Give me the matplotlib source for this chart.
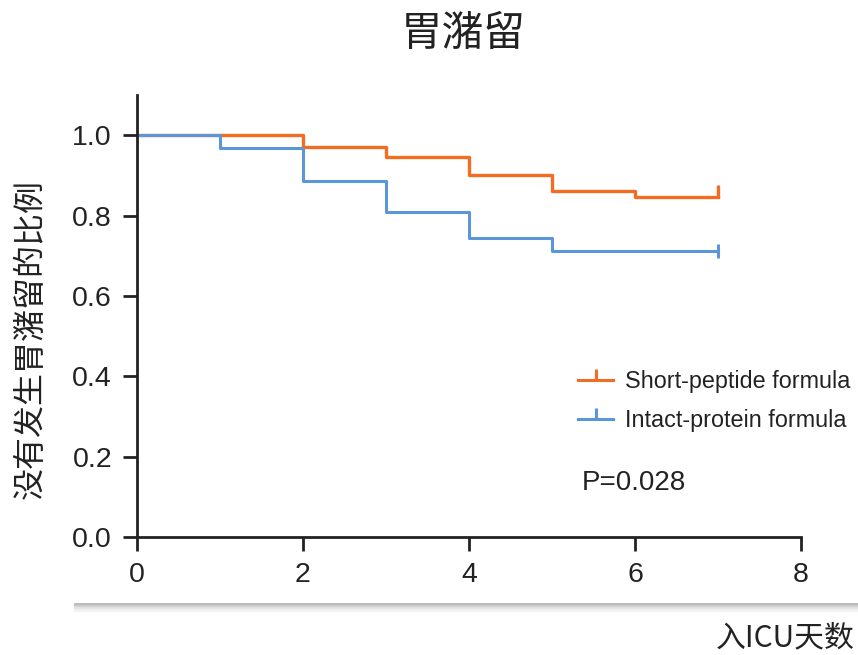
import matplotlib
matplotlib.use("Agg")
from matplotlib import pyplot as plt
from matplotlib.lines import Line2D
from matplotlib.path import Path

# Kaplan-Meier steps
days_sp = [0, 2, 3, 4, 5, 6, 7]
surv_sp = [1.0, 0.970, 0.945, 0.900, 0.861, 0.846, 0.846]
days_ip = [0, 1, 2, 3, 4, 5, 7]
surv_ip = [1.0, 0.968, 0.886, 0.808, 0.744, 0.711, 0.711]

labels = ["Short-peptide formula", "Intact-protein formula"]
x_ticks = [0, 2, 4, 6, 8]
y_ticks = [0.0, 0.2, 0.4, 0.6, 0.8, 1.0]

orange = "#F26D21"
blue = "#5B97D8"
cjk = ["Noto Sans CJK SC", "DejaVu Sans"]
latin = ["Liberation Sans", "DejaVu Sans"]

# tick pointing up from the line, used for censored marks
censor = Path([[0, 0], [0, 1]])

fig = plt.figure(figsize=(8.58, 6.55), dpi=100)
ax = fig.add_axes([137 / 858, 1 - 537 / 655, 664 / 858, 442 / 655])

ax.step(days_sp, surv_sp, where="post", color=orange, lw=2.4)
ax.step(days_ip, surv_ip, where="post", color=blue, lw=2.2)
ax.plot(days_sp[-1:], surv_sp[-1:], ls="none", marker=censor,
        ms=18, mew=2.4, color=orange)
ax.plot(days_ip[-1:], surv_ip[-1:], ls="none", marker="|",
        ms=10, mew=2.2, color=blue)

ax.set_xlim(0, 8)
ax.set_ylim(0, 1.1)
ax.set_xticks(x_ticks)
ax.set_xticklabels([str(t) for t in x_ticks], family=latin, fontsize=20.5)
ax.set_yticks(y_ticks)
ax.set_yticklabels([f"{t:.1f}" for t in y_ticks], family=latin, fontsize=20.5)
ax.tick_params(direction="out", length=10, width=2, color="#222222",
               labelcolor="#222222", pad=8)
for side in ["top", "right"]:
    ax.spines[side].set_visible(False)
for side in ["left", "bottom"]:
    ax.spines[side].set_linewidth(2)
    ax.spines[side].set_color("#222222")

handles = [Line2D([], [], color=orange, lw=2.2, marker=censor, ms=16, mew=2.2),
           Line2D([], [], color=blue, lw=2.2, marker=censor, ms=16, mew=2.2)]
fig.legend(handles, labels, loc="center left",
           bbox_to_anchor=(578 / 858, 1 - 401 / 655),
           frameon=False, borderpad=0, borderaxespad=0, handlelength=1.5,
           handletextpad=0.5, labelspacing=0.7,
           prop={"family": latin, "size": 16.8}, labelcolor="#222222")

fig.text(582 / 858, 1 - 483 / 655, "P=0.028", family=latin, fontsize=20,
         color="#222222", ha="left", va="center")

fig.text(463 / 858, 1 - 34 / 655, "胃潴留", family=cjk, fontsize=30,
         color="#222222", ha="center", va="center")
fig.text(31 / 858, 1 - 339 / 655, "没有发生胃潴留的比例", family=cjk,
         fontsize=23, color="#222222", rotation=90, ha="center", va="center")
fig.text(855 / 858, 1 - 638 / 655, "入ICU天数", family=cjk, fontsize=21.5,
         color="#222222", ha="right", va="center")

# soft shadow line of the card edge
for i, c in enumerate(["#b8b8b8", "#d0d0d0", "#e4e4e4", "#f2f2f2"]):
    y = 1 - (604 + i * 2) / 655
    fig.add_artist(Line2D([75 / 858, 1.0], [y, y], color=c, lw=2,
                          transform=fig.transFigure))

fig.savefig("out.png", dpi=100)
